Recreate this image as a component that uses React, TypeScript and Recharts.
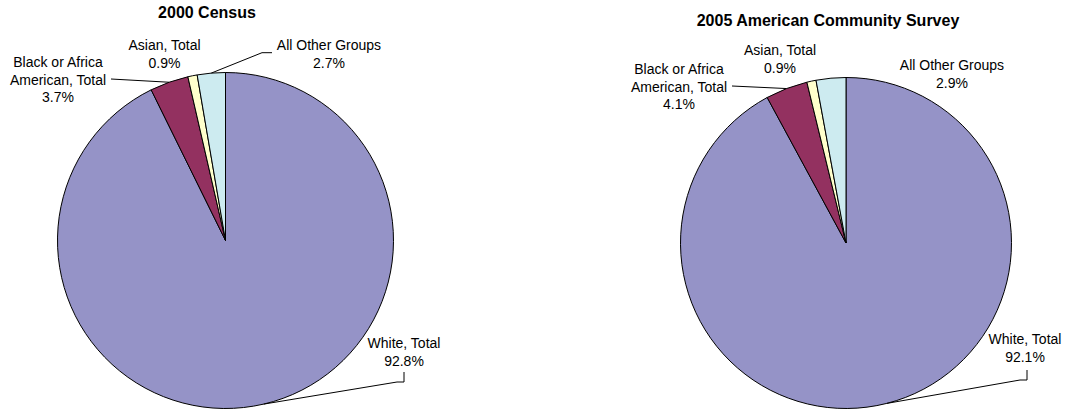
import { PieChart, Pie, Cell } from "recharts"

const groups = ["White, Total", "Black or Africa American, Total", "Asian, Total", "All Other Groups"]
const groupLines = [["White, Total"], ["Black or Africa", "American, Total"], ["Asian, Total"], ["All Other Groups"]]
const census2000 = [92.8, 3.7, 0.9, 2.7]
const acs2005 = [92.1, 4.1, 0.9, 2.9]
const colors = ["#9593C7", "#933160", "#FFFFCC", "#CDEBF0"]

const FONT = "'Liberation Sans', Arial, sans-serif"
const LINE_H = 17.5

type Pt = [number, number]
interface LabelSpot {
  dx: number
  dy: number
  leader?: Pt[]
}
interface PieLayout {
  cx: number
  cy: number
  r: number
  labels: LabelSpot[]
}

// label anchors are offsets from the pie centre
const leftLayout: PieLayout = {
  cx: 225.5,
  cy: 240.5,
  r: 168,
  labels: [
    { dx: 178.5, dy: 102.5, leader: [[178.5, 131.5], [178.5, 141.5], [171.5, 141.5]] },
    { dx: -167.5, dy: -178.5, leader: [[-114.5, -161.5]] },
    { dx: -61, dy: -195.5 },
    { dx: 103.5, dy: -195.5, leader: [[46.5, -187.8], [36.5, -187.8]] },
  ],
}

const rightLayout: PieLayout = {
  cx: 846,
  cy: 243,
  r: 165.5,
  labels: [
    { dx: 179, dy: 96, leader: [[181, 127], [181, 137], [174, 137]] },
    { dx: -167, dy: -174, leader: [[-114, -157]] },
    { dx: -66, dy: -193 },
    { dx: 106, dy: -178 },
  ],
}

const toRows = (values: number[]) => groups.map((name, i) => ({ name, value: values[i] }))

const RAD = Math.PI / 180

function makeLabel(layout: PieLayout) {
  return (props: any) => {
    const { index, midAngle, value } = props
    const spot = layout.labels[index]
    const lines = [...groupLines[index], `${value.toFixed(1)}%`]
    const tx = layout.cx + spot.dx
    const ty = layout.cy + spot.dy + 5
    let leader = null
    if (spot.leader) {
      const edgeX = layout.cx + layout.r * Math.cos(-midAngle * RAD)
      const edgeY = layout.cy + layout.r * Math.sin(-midAngle * RAD)
      const pts = spot.leader.map(([x, y]) => `${layout.cx + x},${layout.cy + y}`)
      pts.push(`${edgeX},${edgeY}`)
      leader = <polyline points={pts.join(" ")} fill="none" stroke="#000" strokeWidth={1} />
    }
    return (
      <g key={`lbl-${index}`}>
        {leader}
        <text x={tx} y={ty} textAnchor="middle" fontFamily={FONT} fontSize={14} fill="#000">
          {lines.map((line, i) => (
            <tspan key={i} x={tx} dy={i === 0 ? 0 : LINE_H}>
              {line}
            </tspan>
          ))}
        </text>
      </g>
    )
  }
}

export default function App() {
  return (
    <div style={{ position: "absolute", left: 0, top: 0, width: 1068, height: 410, background: "#fff" }}>
      <PieChart width={1068} height={410} margin={{ top: 0, right: 0, bottom: 0, left: 0 }}>
        <text x={207} y={18} textAnchor="middle" fontFamily={FONT} fontSize={16} fontWeight="bold" fill="#000">
          2000 Census
        </text>
        <text x={828} y={26} textAnchor="middle" fontFamily={FONT} fontSize={16} fontWeight="bold" fill="#000">
          2005 American Community Survey
        </text>
        <Pie
          data={toRows(census2000)}
          dataKey="value"
          nameKey="name"
          cx={leftLayout.cx}
          cy={leftLayout.cy}
          outerRadius={leftLayout.r}
          startAngle={90}
          endAngle={-270}
          stroke="#000"
          strokeWidth={1}
          labelLine={false}
          label={makeLabel(leftLayout)}
          isAnimationActive={false}
        >
          {colors.map((c, i) => (
            <Cell key={i} fill={c} />
          ))}
        </Pie>
        <Pie
          data={toRows(acs2005)}
          dataKey="value"
          nameKey="name"
          cx={rightLayout.cx}
          cy={rightLayout.cy}
          outerRadius={rightLayout.r}
          startAngle={90}
          endAngle={-270}
          stroke="#000"
          strokeWidth={1}
          labelLine={false}
          label={makeLabel(rightLayout)}
          isAnimationActive={false}
        >
          {colors.map((c, i) => (
            <Cell key={i} fill={c} />
          ))}
        </Pie>
      </PieChart>
    </div>
  )
}
